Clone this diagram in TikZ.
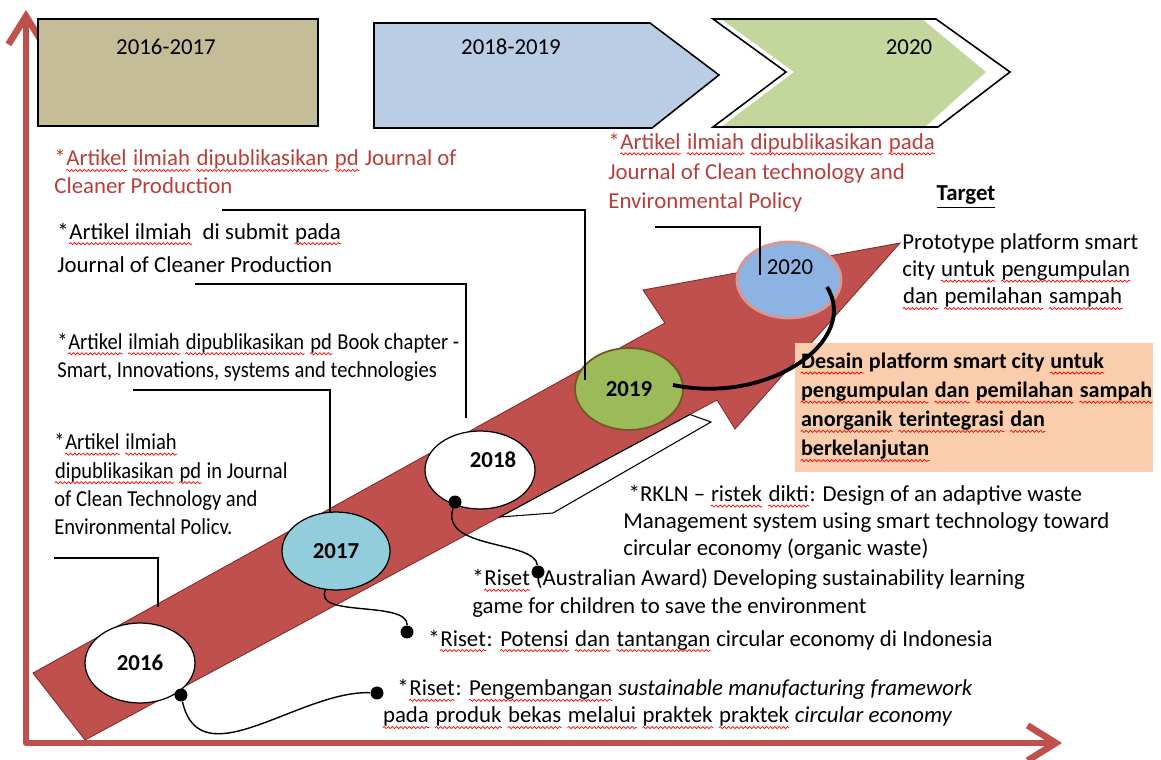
\documentclass[tikz,border=0pt]{standalone}
\usepackage{fontspec}
\setmainfont{Carlito}
\newfontfamily\narrowfont{Carlito}[FakeStretch=0.9]
\usetikzlibrary{arrows.meta,shapes.geometric,decorations.pathmorphing}

\definecolor{axisred}{RGB}{192,80,77}
\definecolor{bandline}{RGB}{130,45,42}
\definecolor{tanbox}{RGB}{196,189,151}
\definecolor{paleblue}{RGB}{185,205,229}
\definecolor{palegreen}{RGB}{195,214,155}
\definecolor{cyanish}{RGB}{146,205,220}
\definecolor{olive}{RGB}{155,187,89}
\definecolor{oliveline}{RGB}{120,85,40}
\definecolor{skyblue}{RGB}{141,179,226}
\definecolor{pinkline}{RGB}{217,150,148}
\definecolor{textred}{RGB}{185,62,58}
\definecolor{peach}{RGB}{250,205,172}

% red spell-check wave under a word
\newcommand\sq[1]{\tikz[baseline=(w.base)]{\node[anchor=base west, inner sep=0pt] (w) at (0,0) {#1};
  \draw[red, line width=0.4pt, decorate, decoration={snake, amplitude=0.6pt, segment length=2.4pt}]
    ([yshift=-2.6pt]w.base west) -- ([yshift=-2.6pt]w.base east);}}

\tikzset{
  txt/.style={anchor=base west, align=left, inner sep=0pt, font=\fontsize{13}{15.5}\selectfont},
  redtxt/.style={txt, text=textred},
  yr/.style={ellipse, draw, line width=0.7pt, inner sep=0pt, font=\fontsize{13}{15}\selectfont\bfseries},
  period/.style={font=\fontsize{13}{15}\selectfont},
  link/.style={line width=0.7pt},
  wire/.style={line width=0.8pt},
  blob/.style={circle, fill=black, inner sep=0pt, minimum size=0.26cm},
  axis/.style={draw=axisred, line width=3.8pt, line join=round,
    {Straight Barb[length=16pt,width=20pt]}-{Straight Barb[length=16pt,width=20pt]}},
}

\begin{document}
\begin{tikzpicture}[x=0.02cm, y=-0.02cm]
\useasboundingbox (0,0) rectangle (1161,760);

% axes
\coordinate (ytop) at (26,10);
\coordinate (xend) at (1062,743);
\draw[axis] (ytop) |- (xend);

% period boxes
\filldraw[fill=tanbox, draw=black, line width=0.9pt] (38,19) rectangle (318,126);
\filldraw[fill=paleblue, draw=black, line width=0.9pt] (374,23) -- (650,23) -- (719,75) -- (652,128) -- (374,128) -- cycle;
\fill[palegreen] (721,19) -- (922,19) -- (986,72) -- (925,127) -- (721,127) -- (794,72) -- cycle;
\draw[line width=0.9pt] (713,19) -- (936,19) -- (1010,72) -- (938,127) -- (713,127) -- (786,72) -- cycle;
\node[period] (p1) at (166,47) {2016-2017};
\node[period] (p2) at (511,47) {2018-2019};
\node[period] (p3) at (909,47) {2020};

% big arrow
\filldraw[fill=axisred, draw=bandline, line width=0.5pt] (33,673) -- (85,740) -- (717,400) -- (735,429) -- (900,243) -- (643,290) -- (665,323) -- cycle;
\filldraw[fill=white, draw=black, line width=0.6pt] (500,517) -- (553,513) -- (711,422) -- (690,414.5) -- cycle;

% goal box
\fill[peach] (795,343) rectangle (1153,472);
\node[txt, font=\fontsize{12.6}{16.6}\selectfont\bfseries] (goal) at (800,456)
  {\sq{Desain} platform smart city \sq{untuk}\\\sq{pengumpulan} \sq{dan} \sq{pemilahan} \sq{sampah}\\\sq{anorganik} \sq{terintegrasi} \sq{dan}\\\sq{berkelanjutan}};

% years
\node[yr, fill=white, minimum width=2.2cm, minimum height=1.6cm] (e2016) at (140,663) {2016};
\node[yr, fill=cyanish, minimum width=2.16cm, minimum height=1.56cm] (e2017) at (336,551) {2017};
\node[yr, fill=white, minimum width=2.2cm, minimum height=1.56cm] (e2018) at (480,470) {};
\node[yr, draw=none] (l2018) at (493,460) {2018};
\node[yr, fill=olive, draw=oliveline, line width=1pt, minimum width=2.16cm, minimum height=1.64cm] (e2019) at (629,389) {2019};
\node[yr, fill=skyblue, draw=pinkline, line width=1.6pt, minimum width=2.08cm, minimum height=1.52cm] (e2020) at (789,280) {};
\node[period] (l2020) at (790,267) {2020};

% publications (anchored at the baseline of the last line)
\node[redtxt, font=\fontsize{13}{16}\selectfont] (t19) at (54,194)
  {*\sq{Artikel} \sq{ilmiah} \sq{dipublikasikan} \sq{pd} Journal of\\Cleaner Production};
\node[txt, font=\fontsize{13}{19.3}\selectfont] (t18) at (57,273)
  {*\sq{Artikel ilmiah}\ \ di submit \sq{pada}\\Journal of Cleaner Production};
\node[txt, font=\narrowfont\fontsize{13}{16.4}\selectfont] (t17) at (57,378)
  {*\sq{Artikel} \sq{ilmiah} \sq{dipublikasikan} \sq{pd} Book chapter -\\Smart, Innovations, systems and technologies};
\node[txt, font=\narrowfont\fontsize{13}{16.2}\selectfont] (t16) at (54,535)
  {*\sq{Artikel} \sq{ilmiah}\\\sq{dipublikasikan} \sq{pd} in Journal\\of Clean Technology and\\Environmental Policv.};
\node[redtxt, font=\fontsize{13}{17}\selectfont] (t20) at (608,209)
  {*\sq{Artikel} \sq{ilmiah} \sq{dipublikasikan} \sq{pada}\\Journal of Clean technology and\\Environmental Policy};

\coordinate (c19a) at (222,210); \coordinate (c19b) at (585,380);
\coordinate (c18a) at (195,284); \coordinate (c18b) at (466,418);
\coordinate (c17a) at (133,390); \coordinate (c17b) at (330,513);
\coordinate (c16a) at (54,558);  \coordinate (c16b) at (158,607);
\coordinate (c20a) at (655,227); \coordinate (c20b) at (760,275);
\draw[link] (c19a) -| (c19b);
\draw[link] (c18a) -| (c18b);
\draw[link] (c17a) -| (c17b);
\draw[link] (c16a) -| (c16b);
\draw[link] (c20a) -| (c20b);

% target
\node[anchor=base, font=\fontsize{13}{15}\selectfont\bfseries] (target) at (966,201) {\underline{Target}};
\node[txt, font=\fontsize{13}{15.6}\selectfont] (proto) at (902,304)
  {Prototype platform smart\\city \sq{untuk} \sq{pengumpulan}\\\sq{dan} \sq{pemilahan} \sq{sampah}};

% research
\node[txt] (rkln) at (623,556)
  {\hspace*{3pt}*RKLN -- \sq{ristek} \sq{dikti}: Design of an adaptive waste\\Management system using smart technology toward\\circular economy (organic waste)};
\node[txt] (award) at (472,613)
  {*\sq{Riset} (Australian Award) Developing sustainability learning\\game for children to save the environment};
\node[txt] (potensi) at (428,646)
  {*\sq{Riset}: \sq{Potensi} \sq{dan} \sq{tantangan} circular economy di Indonesia};
\node[txt] (kembang) at (382,723)
  {\hspace*{8.5pt}*\sq{Riset}: \sq{Pengembangan} \emph{sustainable manufacturing framework}\\\sq{pada} \sq{produk} \sq{bekas} \sq{melalui} \sq{praktek} \sq{praktek} \emph{circular economy}};

\node[blob] (d16a) at (181,695) {};
\node[blob] (d16b) at (377,693) {};
\node[blob] (d17) at (407,632) {};
\node[blob] (d18a) at (455,502) {};
\node[blob] (d18b) at (538,572) {};
\draw[wire] (d16a) .. controls (200,780) and (300,690) .. (d16b);
\draw[wire] (e2017.255) .. controls (312,618) and (408,600) .. (d17);
\draw[wire] (d18a) .. controls (440,550) and (535,540) .. (d18b);

\coordinate (k19) at (673,385);
\coordinate (k20) at (827,287);
\draw[line width=2.2pt] (k19) .. controls (770,405) and (860,340) .. (k20);
\end{tikzpicture}
\end{document}
